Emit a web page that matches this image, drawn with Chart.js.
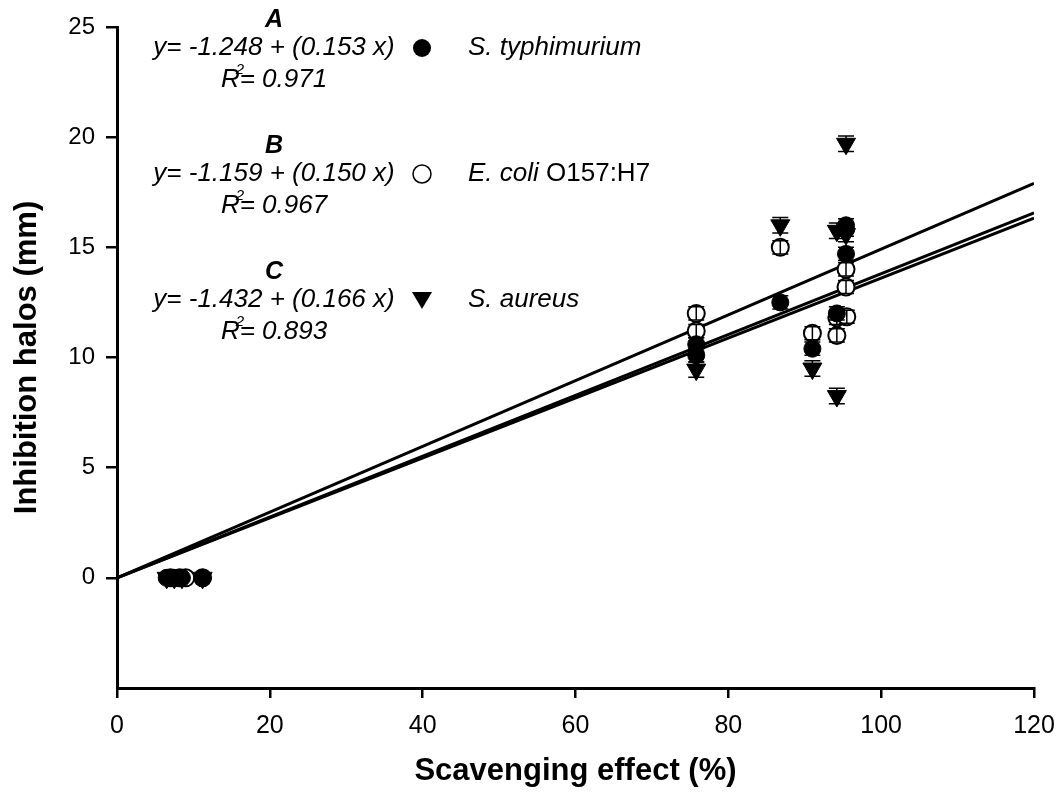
<!DOCTYPE html>
<html>
<head>
<meta charset="utf-8">
<script src="https://cdn.jsdelivr.net/npm/chart.js@4.4.1/dist/chart.umd.min.js"></script>
<style>
  html, body { margin: 0; padding: 0; background: #fff; }
  #wrap { width: 1062px; height: 803px; }
</style>
</head>
<body>
<div id="wrap"><canvas id="chart" width="1062" height="803"></canvas></div>
<script>
// S. typhimurium (filled circles)
const typhiX   = [6.5, 7.5, 8.5, 11.2, 75.8, 75.8, 86.8, 91.0, 94.2, 95.4, 95.4, 95.4];
const typhiY   = [0, 0, 0, 0, 10.6, 10.1, 12.5, 10.4, 12.0, 16.0, 15.8, 14.7];
const typhiErr = [0, 0, 0, 0, 0.3, 0.3, 0.3, 0.3, 0.3, 0.3, 0.3, 0.3];

// E. coli O157:H7 (open circles)
const coliX   = [7.0, 8.2, 9.0, 11.2, 75.8, 75.8, 86.8, 91.0, 94.2, 94.2, 95.5, 95.4, 95.4];
const coliY   = [0, 0, 0, 0, 12.0, 11.2, 15.0, 11.1, 11.8, 11.0, 11.85, 14.0, 13.2];
const coliErr = [0, 0, 0, 0, 0.3, 0.3, 0.3, 0.3, 0.3, 0.3, 0.3, 0.3, 0.3];

// S. aureus (down triangles)
const aureusX   = [6.5, 7.5, 8.5, 11.2, 75.8, 86.8, 91.0, 94.2, 94.2, 95.4, 95.4];
const aureusY   = [0, 0, 0, 0, 9.45, 16.0, 9.5, 8.25, 15.75, 19.7, 15.6];
const aureusErr = [0, 0, 0, 0, 0.35, 0.35, 0.35, 0.35, 0.35, 0.35, 0.35];

// fitted lines as drawn (start / end)
const lineX      = [0, 120];
const typhiLine  = [0, 16.56];
const coliLine   = [0, 16.33];
const aureusLine = [0, 17.9];

const xTicks = [0, 20, 40, 60, 80, 100, 120];
const yTicks = [0, 5, 10, 15, 20, 25];

const notes = [
  { tag: 'A', eq: 'y= -1.248 + (0.153 x)', r2: '0.971', species: 'S. typhimurium', strain: '', marker: 'filled' },
  { tag: 'B', eq: 'y= -1.159 + (0.150 x)', r2: '0.967', species: 'E. coli', strain: ' O157:H7', marker: 'open' },
  { tag: 'C', eq: 'y= -1.432 + (0.166 x)', r2: '0.893', species: 'S. aureus', strain: '', marker: 'tri' }
];

const FONT = '"Liberation Sans", Arial, sans-serif';

function pts(xs, ys) {
  return xs.map((x, i) => ({ x: x, y: ys[i] }));
}

// error caps drawn on top of the markers
const errorBars = {
  id: 'errorBars',
  afterDatasetsDraw(chart) {
    const ctx = chart.ctx;
    const yScale = chart.scales.y;
    chart.data.datasets.forEach((ds, di) => {
      if (!ds.errs) return;
      const meta = chart.getDatasetMeta(di);
      ctx.save();
      ctx.strokeStyle = '#000';
      ctx.lineWidth = 1.5;
      meta.data.forEach((el, i) => {
        const e = ds.errs[i];
        if (!e) return;
        const v = ds.data[i].y;
        const top = yScale.getPixelForValue(v + e);
        const bot = yScale.getPixelForValue(v - e);
        ctx.beginPath();
        ctx.moveTo(el.x, top); ctx.lineTo(el.x, bot);
        ctx.moveTo(el.x - 8, top); ctx.lineTo(el.x + 8, top);
        ctx.moveTo(el.x - 8, bot); ctx.lineTo(el.x + 8, bot);
        ctx.stroke();
      });
      ctx.restore();
    });
  }
};

// equations + species legend in the upper-left
const notesPlugin = {
  id: 'notes',
  afterDraw(chart) {
    const ctx = chart.ctx;
    ctx.save();
    ctx.fillStyle = '#000';
    ctx.textBaseline = 'middle';
    notes.forEach((n, i) => {
      const top = [20, 146, 272][i];
      const cx = 274;

      ctx.textAlign = 'center';
      ctx.font = 'italic bold 25px ' + FONT;
      ctx.fillText(n.tag, cx, top);

      ctx.font = 'italic 26px ' + FONT;
      ctx.fillText(n.eq, cx, top + 28);

      // R² = value
      const rest = '= ' + n.r2;
      const wR = ctx.measureText('R').width;
      const wRest = ctx.measureText(rest).width;
      const x0 = cx - (wR + wRest) / 2;
      const yR = top + 60;
      ctx.textAlign = 'left';
      ctx.fillText('R', x0, yR);
      ctx.font = 'italic 15px ' + FONT;
      ctx.fillText('2', x0 + wR - 4, yR - 10);
      ctx.font = 'italic 26px ' + FONT;
      ctx.fillText(rest, x0 + wR, yR);

      // marker
      const mx = 422, my = top + 28;
      ctx.lineWidth = 1.5;
      ctx.strokeStyle = '#000';
      ctx.beginPath();
      if (n.marker === 'tri') {
        ctx.moveTo(mx - 10, my - 8);
        ctx.lineTo(mx + 10, my - 8);
        ctx.lineTo(mx, my + 9);
        ctx.closePath();
        ctx.fill();
      } else {
        ctx.arc(mx, my, 9, 0, Math.PI * 2);
        if (n.marker === 'filled') ctx.fill();
        else { ctx.fillStyle = '#fff'; ctx.fill(); ctx.fillStyle = '#000'; ctx.stroke(); }
      }

      // species
      ctx.font = 'italic 26px ' + FONT;
      ctx.fillText(n.species, 468, my);
      if (n.strain) {
        const w = ctx.measureText(n.species).width;
        ctx.font = '26px ' + FONT;
        ctx.fillText(n.strain, 468 + w, my);
      }
    });
    ctx.restore();
  }
};

const lineStyle = {
  type: 'line',
  borderColor: '#000',
  borderWidth: 3,
  pointRadius: 0,
  fill: false,
  showLine: true,
  order: 10
};

new Chart(document.getElementById('chart'), {
  type: 'scatter',
  data: {
    datasets: [
      Object.assign({ label: 'fit A', data: pts(lineX, typhiLine) }, lineStyle),
      Object.assign({ label: 'fit B', data: pts(lineX, coliLine) }, lineStyle),
      Object.assign({ label: 'fit C', data: pts(lineX, aureusLine) }, lineStyle),
      {
        label: 'S. aureus',
        data: pts(aureusX, aureusY),
        errs: aureusErr,
        pointStyle: 'triangle',
        rotation: 180,
        pointRadius: 11,
        backgroundColor: '#000',
        borderColor: '#000',
        borderWidth: 1,
        order: 3
      },
      {
        label: 'E. coli O157:H7',
        data: pts(coliX, coliY),
        errs: coliErr,
        pointStyle: 'circle',
        pointRadius: 8.5,
        backgroundColor: '#fff',
        borderColor: '#000',
        borderWidth: 2,
        order: 2
      },
      {
        label: 'S. typhimurium',
        data: pts(typhiX, typhiY),
        errs: typhiErr,
        pointStyle: 'circle',
        pointRadius: 8.5,
        backgroundColor: '#000',
        borderColor: '#000',
        borderWidth: 1,
        order: 1
      }
    ]
  },
  options: {
    responsive: false,
    animation: false,
    layout: { padding: { top: 27, right: 28, left: 0, bottom: 0 } },
    plugins: { legend: { display: false }, tooltip: { enabled: false } },
    scales: {
      x: {
        type: 'linear',
        min: 0,
        max: 120,
        afterFit(s) { s.height = 115; s.paddingLeft = 0; s.paddingRight = 0; },
        afterBuildTicks(s) { s.ticks = xTicks.map(v => ({ value: v })); },
        border: { display: true, color: '#000', width: 3 },
        grid: { drawOnChartArea: false, drawTicks: true, tickLength: 10, color: '#000', lineWidth: 2.5 },
        ticks: { color: '#000', padding: 13, font: { family: FONT, size: 25 } },
        title: {
          display: true,
          text: 'Scavenging effect (%)',
          color: '#000',
          font: { family: FONT, size: 31, weight: 'bold' },
          padding: { top: 0, bottom: 13 }
        }
      },
      y: {
        type: 'linear',
        min: -5,
        max: 25,
        afterFit(s) { s.width = 117; s.paddingTop = 0; s.paddingBottom = 0; },
        afterBuildTicks(s) { s.ticks = yTicks.map(v => ({ value: v })); },
        border: { display: true, color: '#000', width: 3 },
        grid: { drawOnChartArea: false, drawTicks: true, tickLength: 11, color: '#000', lineWidth: 2.5 },
        ticks: { color: '#000', padding: 11, font: { family: FONT, size: 24 } },
        title: {
          display: true,
          text: 'Inhibition halos (mm)',
          color: '#000',
          font: { family: FONT, size: 31, weight: 'bold' },
          padding: { top: 9, bottom: 0 }
        }
      }
    }
  },
  plugins: [errorBars, notesPlugin]
});
</script>
</body>
</html>
